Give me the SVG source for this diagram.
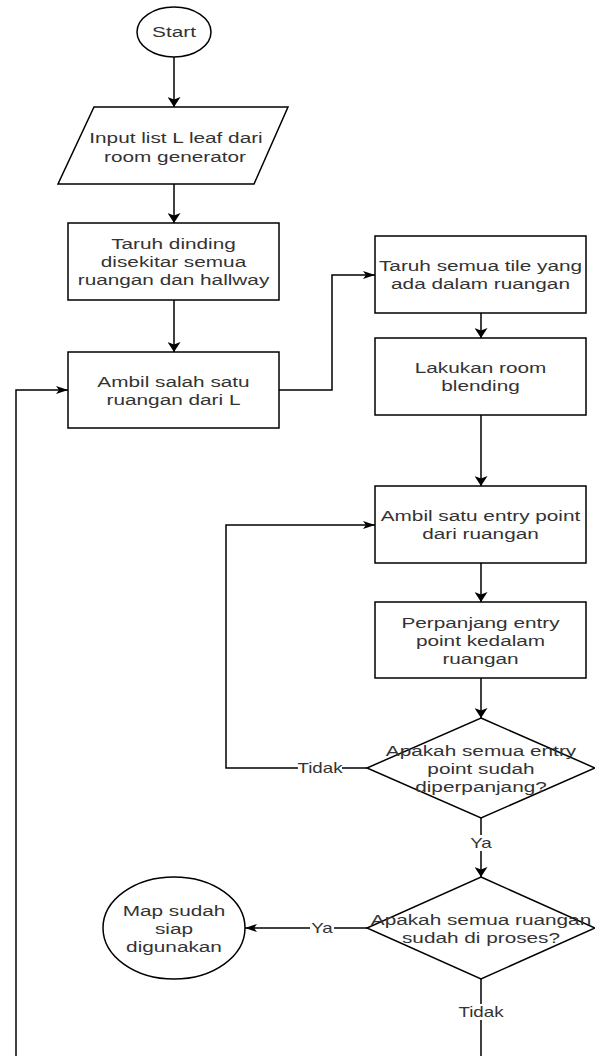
<svg xmlns="http://www.w3.org/2000/svg" width="595" height="1056" viewBox="0 0 595 1056">
<style>
.s{fill:#fff;stroke:#000;stroke-width:1.5}
.c{fill:none;stroke:#000;stroke-width:1.5}
.t{font-family:"Liberation Sans",Arial,sans-serif;font-size:15.5px;fill:#333;text-anchor:middle}
.l{font-family:"Liberation Sans",Arial,sans-serif;font-size:14px;fill:#333;text-anchor:middle}
.bg{fill:#fff;stroke:none}
</style>
<defs>
<marker id="av" markerUnits="userSpaceOnUse" markerWidth="10" markerHeight="13" refX="10" refY="6.5" orient="auto">
<path d="M0,0 L10,6.5 L0,13 L2.5,6.5 z" fill="#000"/>
</marker>
<marker id="ah" markerUnits="userSpaceOnUse" markerWidth="12" markerHeight="8" refX="12" refY="4" orient="auto">
<path d="M0,0 L12,4 L0,8 L3,4 z" fill="#000"/>
</marker>
</defs>
<rect width="595" height="1056" fill="#fff"/>
<g id="connectors">
<path class="c" d="M174,57 V107" marker-end="url(#av)"/>
<path class="c" d="M174,184 V223" marker-end="url(#av)"/>
<path class="c" d="M174,300 V352" marker-end="url(#av)"/>
<path class="c" d="M279,390 H332 V275 H375" marker-end="url(#ah)"/>
<path class="c" d="M481,313 V338" marker-end="url(#av)"/>
<path class="c" d="M481,415 V486" marker-end="url(#av)"/>
<path class="c" d="M481,563 V602" marker-end="url(#av)"/>
<path class="c" d="M481,678 V718" marker-end="url(#av)"/>
<path class="c" d="M367,768 H226 V525 H375" marker-end="url(#ah)"/>
<path class="c" d="M481,818 V877" marker-end="url(#av)"/>
<path class="c" d="M367,928 H245" marker-end="url(#ah)"/>
<path class="c" d="M481,979 V1070 H16 V390 H68" marker-end="url(#ah)"/>
<rect class="bg" x="298" y="760" width="44" height="16"/>
<text class="l" transform="translate(320,773) scale(1.34,1)">Tidak</text>
<rect class="bg" x="469" y="835" width="24" height="16"/>
<text class="l" transform="translate(481,848) scale(1.34,1)">Ya</text>
<rect class="bg" x="310" y="920" width="24" height="16"/>
<text class="l" transform="translate(322,933) scale(1.34,1)">Ya</text>
<rect class="bg" x="459" y="1004" width="44" height="16"/>
<text class="l" transform="translate(481,1017) scale(1.34,1)">Tidak</text>
</g>
<g id="start">
<ellipse class="s" cx="174" cy="32" rx="37" ry="25"/>
<text class="t" transform="translate(174,37) scale(1.34,1)">Start</text>
</g>
<g id="input">
<polygon class="s" points="94,107 288,107 254,184 58,184"/>
<text class="t" transform="translate(176,143) scale(1.34,1)">Input list L leaf dari</text>
<text class="t" transform="translate(175,162) scale(1.34,1)">room generator</text>
</g>
<g id="taruh-dinding">
<rect class="s" x="68" y="223" width="211" height="77"/>
<text class="t" transform="translate(173.5,249) scale(1.34,1)">Taruh dinding</text>
<text class="t" transform="translate(173.5,267) scale(1.34,1)">disekitar semua</text>
<text class="t" transform="translate(173.5,285) scale(1.34,1)">ruangan dan hallway</text>
</g>
<g id="ambil-ruangan">
<rect class="s" x="68" y="352" width="211" height="76"/>
<text class="t" transform="translate(173.5,386.5) scale(1.34,1)">Ambil salah satu</text>
<text class="t" transform="translate(173.5,404.5) scale(1.34,1)">ruangan dari L</text>
</g>
<g id="taruh-tile">
<rect class="s" x="375" y="236" width="211" height="77"/>
<text class="t" transform="translate(480.5,271) scale(1.34,1)">Taruh semua tile yang</text>
<text class="t" transform="translate(480.5,289) scale(1.34,1)">ada dalam ruangan</text>
</g>
<g id="room-blending">
<rect class="s" x="375" y="338" width="211" height="77"/>
<text class="t" transform="translate(480.5,373) scale(1.34,1)">Lakukan room</text>
<text class="t" transform="translate(480.5,391) scale(1.34,1)">blending</text>
</g>
<g id="ambil-entry">
<rect class="s" x="375" y="486" width="211" height="77"/>
<text class="t" transform="translate(480.5,521) scale(1.34,1)">Ambil satu entry point</text>
<text class="t" transform="translate(480.5,539) scale(1.34,1)">dari ruangan</text>
</g>
<g id="perpanjang">
<rect class="s" x="375" y="602" width="211" height="76"/>
<text class="t" transform="translate(480.5,627.5) scale(1.34,1)">Perpanjang entry</text>
<text class="t" transform="translate(480.5,645.5) scale(1.34,1)">point kedalam</text>
<text class="t" transform="translate(480.5,663.5) scale(1.34,1)">ruangan</text>
</g>
<g id="cek-entry">
<polygon class="s" points="481,718 595,768 481,818 367,768"/>
<text class="t" transform="translate(481,755.5) scale(1.34,1)">Apakah semua entry</text>
<text class="t" transform="translate(481,773.5) scale(1.34,1)">point sudah</text>
<text class="t" transform="translate(481,791.5) scale(1.34,1)">diperpanjang?</text>
</g>
<g id="cek-ruangan">
<polygon class="s" points="481,877 595,928 481,979 367,928"/>
<text class="t" transform="translate(481,924.5) scale(1.34,1)">Apakah semua ruangan</text>
<text class="t" transform="translate(481,942.5) scale(1.34,1)">sudah di proses?</text>
</g>
<g id="selesai">
<ellipse class="s" cx="174" cy="928" rx="71" ry="51"/>
<text class="t" transform="translate(174,915.5) scale(1.34,1)">Map sudah</text>
<text class="t" transform="translate(174,933.5) scale(1.34,1)">siap</text>
<text class="t" transform="translate(174,951.5) scale(1.34,1)">digunakan</text>
</g>
</svg>
